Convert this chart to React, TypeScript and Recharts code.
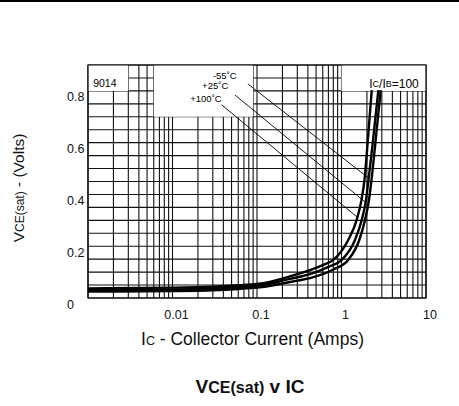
import React from "react";
import {
  LineChart,
  Line,
  XAxis,
  YAxis,
  CartesianGrid,
  ReferenceArea,
  ReferenceLine,
  ReferenceDot,
} from "recharts";

// grid + tick values
const currentTicks = [
  0.001, 0.002, 0.003, 0.004, 0.005, 0.006, 0.007, 0.008, 0.009,
  0.01, 0.02, 0.03, 0.04, 0.05, 0.06, 0.07, 0.08, 0.09,
  0.1, 0.2, 0.3, 0.4, 0.5, 0.6, 0.7, 0.8, 0.9,
  1, 2, 3, 4, 5, 6, 7, 8, 9, 10,
];
const currentLabels = [0.01, 0.1, 1, 10];
const voltTicks = [
  0, 0.05, 0.1, 0.15, 0.2, 0.25, 0.3, 0.35, 0.4, 0.45,
  0.5, 0.55, 0.6, 0.65, 0.7, 0.75, 0.8, 0.85, 0.9,
];
const voltLabels = [0, 0.2, 0.4, 0.6, 0.8];

// VCE(sat) curves, IC/IB = 100
const icHot = [0.001, 0.01, 0.03, 0.06, 0.1, 0.15, 0.2, 0.3, 0.424, 0.6, 0.8, 1.2, 1.51, 1.725, 1.871, 2.02, 2.28];
const vceHot = [0.037, 0.04, 0.044, 0.049, 0.054, 0.064, 0.075, 0.092, 0.108, 0.127, 0.147, 0.224, 0.301, 0.379, 0.456, 0.584, 0.803];
const icRoom = [0.001, 0.01, 0.03, 0.06, 0.1, 0.15, 0.2, 0.3, 0.424, 0.7, 1.006, 1.444, 1.734, 1.95, 2.087, 2.316, 2.73];
const vceRoom = [0.031, 0.033, 0.037, 0.042, 0.047, 0.057, 0.067, 0.08, 0.092, 0.12, 0.147, 0.224, 0.301, 0.379, 0.456, 0.584, 0.803];
const icCold = [0.001, 0.01, 0.03, 0.06, 0.1, 0.15, 0.2, 0.3, 0.424, 0.8, 1.2, 1.624, 1.897, 2.116, 2.265, 2.49, 2.91];
const vceCold = [0.025, 0.027, 0.03, 0.035, 0.04, 0.048, 0.056, 0.067, 0.077, 0.11, 0.147, 0.224, 0.301, 0.379, 0.456, 0.584, 0.803];

// temperature callouts
const tempNames = ["-55˚C", "+25˚C", "+100˚C"];
const tempTextIc = [0.0575, 0.0457, 0.0382];
const tempTextV = [0.861, 0.82, 0.771];
const leaderFromIc = [0.078, 0.055, 0.0382];
const leaderFromV = [0.827, 0.784, 0.746];
const leaderToIc = [2.06, 1.897, 1.525];
const leaderToV = [0.465, 0.371, 0.313];

const FONT = "'Liberation Sans', Arial, Helvetica, sans-serif";

const toSeries = (ic: number[], v: number[]) => ic.map((x, i) => ({ ic: x, v: v[i] }));

const hot = toSeries(icHot, vceHot);
const room = toSeries(icRoom, vceRoom);
const cold = toSeries(icCold, vceCold);

const XTick = ({ x, y, payload }: any) => {
  if (!currentLabels.includes(payload.value)) return <g />;
  return (
    <text x={x + 4} y={y + 21} textAnchor="middle" fontSize={12.5} fontFamily={FONT} fill="#111">
      {payload.value}
    </text>
  );
};

const YTick = ({ x, y, payload }: any) => {
  if (!voltLabels.includes(payload.value)) return <g />;
  return (
    <text x={x - 21} y={y + 10.5} textAnchor="start" fontSize={12.5} fontFamily={FONT} fill="#111">
      {payload.value}
    </text>
  );
};

const textShape = (txt: string, anchor: string, size: number) => (p: any) => (
  <text
    x={p.cx}
    y={p.cy}
    textAnchor={anchor}
    dominantBaseline="central"
    fontSize={size}
    fontFamily={FONT}
    fill="#000"
  >
    {txt}
  </text>
);

const RatioShape = (p: any) => (
  <text x={p.cx} y={p.cy} dominantBaseline="central" fontFamily={FONT} fill="#000" fontSize={12}>
    I<tspan fontSize={9}>C</tspan>/I<tspan fontSize={9}>B</tspan>=100
  </text>
);

export default function App() {
  return (
    <div
      style={{
        position: "absolute",
        left: 0,
        top: 0,
        width: 459,
        height: 406,
        background: "#fff",
        fontFamily: FONT,
        color: "#111",
      }}
    >
      <div style={{ position: "absolute", left: 0, top: 0, width: 459, height: 2, background: "#000" }} />

      <LineChart width={459} height={406} margin={{ top: 65, right: 33, left: 58, bottom: 78 }}>
        <CartesianGrid stroke="#111" strokeWidth={1.1} />
        <XAxis
          dataKey="ic"
          type="number"
          scale="log"
          domain={[0.001, 10]}
          ticks={currentTicks}
          allowDataOverflow
          axisLine={false}
          tickLine={false}
          tickSize={0}
          tickMargin={0}
          height={30}
          tick={<XTick />}
          interval={0}
        />
        <YAxis
          type="number"
          domain={[0, 0.9]}
          ticks={voltTicks}
          allowDataOverflow
          axisLine={false}
          tickLine={false}
          tickSize={0}
          tickMargin={0}
          width={30}
          tick={<YTick />}
          interval={0}
        />

        {/* blank panels for the annotations */}
        <ReferenceArea x1={0.001} x2={0.003} y1={0.8} y2={0.9} fill="#fff" fillOpacity={1} stroke="none" />
        <ReferenceArea x1={0.006} x2={0.09} y1={0.7} y2={0.9} fill="#fff" fillOpacity={1} stroke="none" />
        <ReferenceArea x1={1} x2={10} y1={0.8} y2={0.9} fill="#fff" fillOpacity={1} stroke="none" />
        <ReferenceArea x1={0.001} x2={10} y1={0} y2={0.9} fill="none" stroke="#000" strokeWidth={1.2} />

        <Line data={hot} dataKey="v" type="monotone" stroke="#000" strokeWidth={2.4} dot={false} isAnimationActive={false} />
        <Line data={room} dataKey="v" type="monotone" stroke="#000" strokeWidth={2.4} dot={false} isAnimationActive={false} />
        <Line data={cold} dataKey="v" type="monotone" stroke="#000" strokeWidth={2.4} dot={false} isAnimationActive={false} />

        {tempNames.map((name, i) => (
          <ReferenceLine
            key={"ld" + i}
            segment={[
              { x: leaderFromIc[i], y: leaderFromV[i] },
              { x: leaderToIc[i], y: leaderToV[i] },
            ]}
            stroke="#000"
            strokeWidth={0.9}
          />
        ))}
        {tempNames.map((name, i) => (
          <ReferenceDot key={"tx" + i} x={tempTextIc[i]} y={tempTextV[i]} r={0} shape={textShape(name, "end", 9.5)} />
        ))}
        <ReferenceDot x={0.00115} y={0.829} r={0} shape={textShape("9014", "start", 10.5)} />
        <ReferenceDot x={2.13} y={0.827} r={0} shape={RatioShape} />
      </LineChart>

      <div
        style={{
          position: "absolute",
          left: 19,
          top: 188,
          transform: "translate(-50%, -50%) rotate(-90deg)",
          whiteSpace: "nowrap",
          fontSize: 15.5,
          lineHeight: 1,
        }}
      >
        V<span style={{ fontSize: 12 }}>CE(sat)</span> - (Volts)
      </div>
      <div
        style={{
          position: "absolute",
          left: 252.5,
          top: 340,
          transform: "translate(-50%, -50%)",
          whiteSpace: "nowrap",
          fontSize: 17.5,
          lineHeight: 1,
        }}
      >
        I<span style={{ fontSize: 12.5 }}>C</span> - Collector Current (Amps)
      </div>
      <div
        style={{
          position: "absolute",
          left: 250,
          top: 386,
          transform: "translate(-50%, -50%)",
          whiteSpace: "nowrap",
          fontSize: 19,
          fontWeight: "bold",
          lineHeight: 1,
        }}
      >
        V<span style={{ fontSize: 16 }}>CE(sat)</span> v IC
      </div>
    </div>
  );
}
